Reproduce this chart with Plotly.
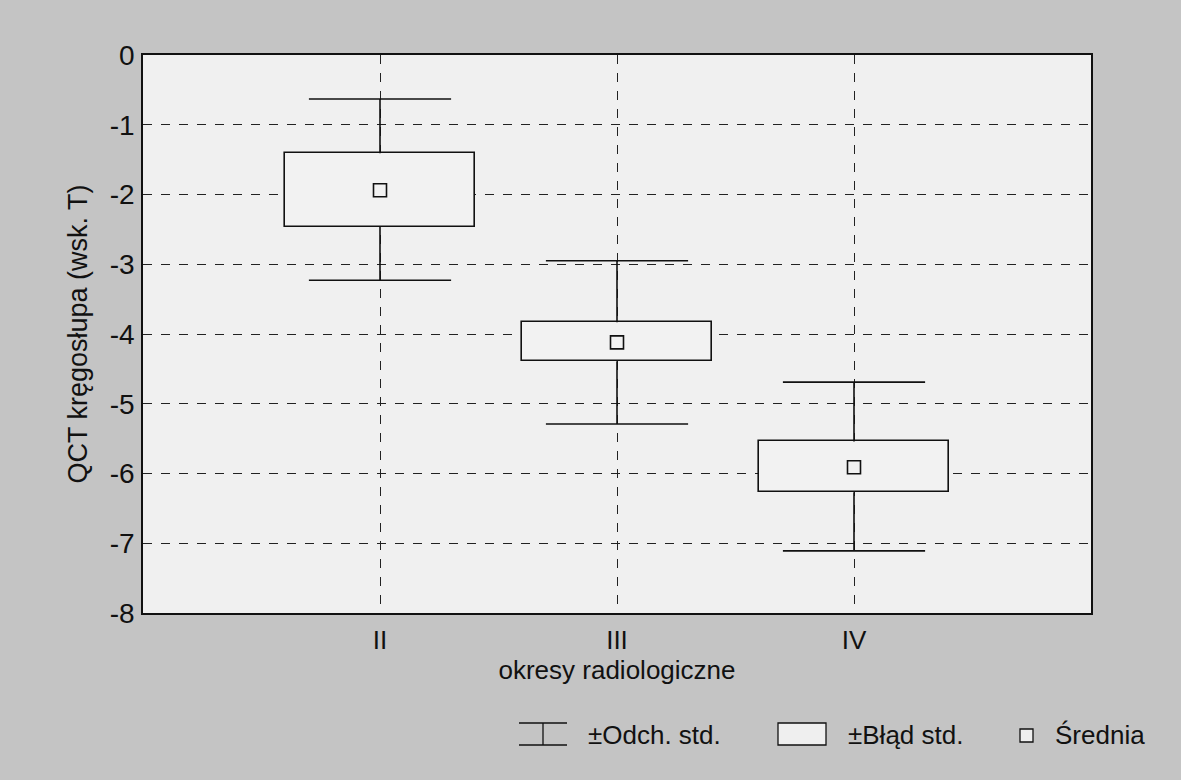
import plotly.graph_objects as go

# ---- data ----
categories = ["II", "III", "IV"]
positions = [1, 2, 3]
mean_vals = [-1.94, -4.12, -5.91]
se_low = [-2.46, -4.39, -6.27]
se_high = [-1.41, -3.83, -5.54]
sd_low = [-3.23, -5.29, -7.11]
sd_high = [-0.63, -2.95, -4.69]
y_tick_vals = [0, -1, -2, -3, -4, -5, -6, -7, -8]
y_tick_text = ["0", "-1", "-2", "-3", "-4", "-5", "-6", "-7", "-8"]
legend_labels = ["±Odch. std.", "±Błąd std.", "Średnia"]

# ---- style ----
W, H = 1181, 780
ML, MR, MT, MB = 143, 90, 55, 167
PAPER = "#c4c4c4"
PLOT = "#f0f0f0"
BOXFILL = "#f2f2f2"
FONT = "Liberation Sans, Arial, sans-serif"
CAP = 0.3
BOXW = 0.8

fig = go.Figure()

# SE boxes
fig.add_trace(go.Bar(
    x=positions,
    y=[h - l for h, l in zip(se_high, se_low)],
    base=se_low,
    width=BOXW,
    marker=dict(color=BOXFILL, line=dict(color="#111", width=1.6)),
    showlegend=False, hoverinfo="skip",
))

# whiskers + caps
wx, wy = [], []
for p, lo, hi, slo, shi in zip(positions, sd_low, sd_high, se_low, se_high):
    wx += [p, p, None, p, p, None, p - CAP, p + CAP, None, p - CAP, p + CAP, None]
    wy += [shi, hi, None, slo, lo, None, hi, hi, None, lo, lo, None]
fig.add_trace(go.Scatter(x=wx, y=wy, mode="lines",
                         line=dict(color="#111", width=1.6),
                         showlegend=False, hoverinfo="skip"))

# means
fig.add_trace(go.Scatter(x=positions, y=mean_vals, mode="markers",
                         marker=dict(symbol="square", size=13, color=BOXFILL,
                                     line=dict(color="#111", width=1.6)),
                         showlegend=False))

# ---- manual legend (pixel helpers to paper coords) ----
def px(x):
    return (x - ML) / (W - ML - MR)

def py(y):
    return (H - MB - y) / (H - MT - MB)

shapes = []
lc = dict(color="#111", width=1.3)
# whisker icon
shapes.append(dict(type="line", xref="paper", yref="paper", x0=px(519), x1=px(567), y0=py(723), y1=py(723), line=lc))
shapes.append(dict(type="line", xref="paper", yref="paper", x0=px(519), x1=px(567), y0=py(745), y1=py(745), line=lc))
shapes.append(dict(type="line", xref="paper", yref="paper", x0=px(543), x1=px(543), y0=py(723), y1=py(745), line=lc))
# box icon
shapes.append(dict(type="rect", xref="paper", yref="paper", x0=px(778), x1=px(826), y0=py(745), y1=py(723),
                   line=lc, fillcolor="#efefef"))
# mean icon
shapes.append(dict(type="rect", xref="paper", yref="paper", x0=px(1020), x1=px(1033), y0=py(742), y1=py(729),
                   line=lc, fillcolor="#efefef"))

annotations = []
for xl, txt in zip([586, 846, 1053], legend_labels):
    annotations.append(dict(xref="paper", yref="paper", x=px(xl), y=py(735), text=txt,
                            showarrow=False, xanchor="left", yanchor="middle",
                            font=dict(size=26, color="#111", family=FONT)))

fig.update_layout(
    width=W, height=H,
    margin=dict(l=ML, r=MR, t=MT, b=MB, autoexpand=False),
    paper_bgcolor=PAPER, plot_bgcolor=PLOT,
    font=dict(family=FONT, color="#111", size=26),
    shapes=shapes, annotations=annotations,
    showlegend=False,
    bargap=0,
)
fig.update_xaxes(
    range=[0, 4], tickvals=positions, ticktext=categories,
    showgrid=True, gridcolor="#222", griddash="dash", gridwidth=1,
    showline=True, linecolor="#111", linewidth=1.6, mirror=True,
    ticks="", zeroline=False, ticklabelstandoff=3,
    tickfont=dict(size=26),
    title=dict(text="okresy radiologiczne", font=dict(size=26), standoff=4),
)
fig.update_yaxes(
    range=[-8, 0], tickvals=y_tick_vals, ticktext=y_tick_text,
    showgrid=True, gridcolor="#222", griddash="dash", gridwidth=1,
    showline=True, linecolor="#111", linewidth=1.6, mirror=True,
    ticks="", zeroline=False, ticklabelstandoff=1,
    tickfont=dict(size=28),
    title=dict(text="QCT kręgosłupa (wsk. T)", font=dict(size=27), standoff=14),
)

fig.write_html("out.html")
